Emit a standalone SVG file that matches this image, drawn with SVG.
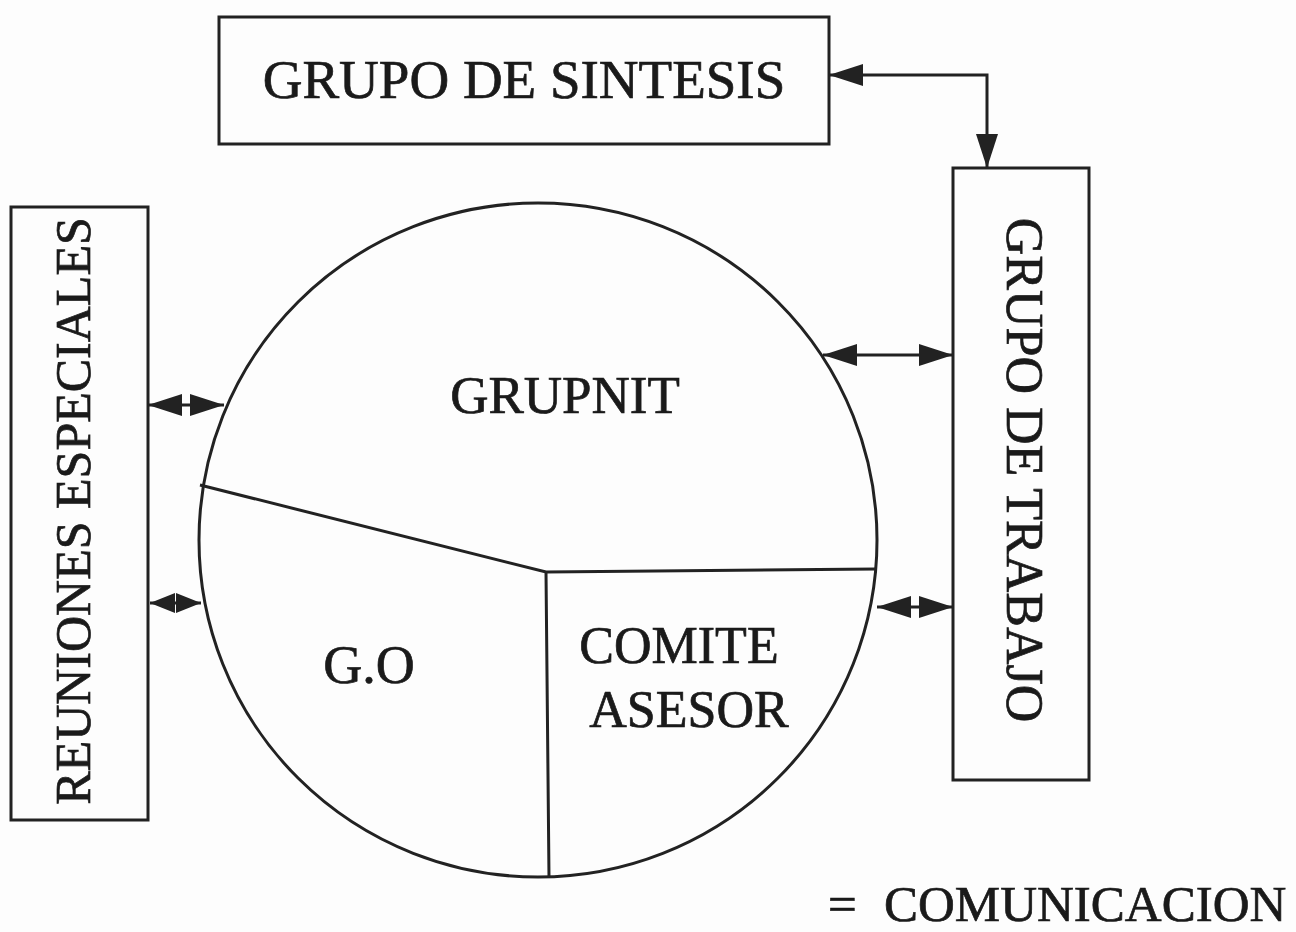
<svg xmlns="http://www.w3.org/2000/svg" width="1296" height="932" viewBox="0 0 1296 932">
<style>
.box{fill:none;stroke:#222;stroke-width:3}
.ln{fill:none;stroke:#222;stroke-width:3}
.t{font-family:"Liberation Serif","Times New Roman",serif;fill:#1a1a1a;stroke:#1a1a1a;stroke-width:0.7}
</style>
<defs>
<marker id="ah" viewBox="0 0 34 22" refX="34" refY="11" markerWidth="34" markerHeight="22" markerUnits="userSpaceOnUse" orient="auto-start-reverse"><path d="M0,0 L34,11 L0,22 z" fill="#222"/></marker>
<marker id="ahs" viewBox="0 0 25 20" refX="25" refY="10" markerWidth="25" markerHeight="20" markerUnits="userSpaceOnUse" orient="auto-start-reverse"><path d="M0,0 L25,10 L0,20 z" fill="#222"/></marker>
</defs>
<rect width="1296" height="932" fill="#fdfdfd"/>

<g id="grupo-sintesis">
<rect class="box" x="219" y="17" width="610" height="127"/>
<text class="t" x="524" y="98" font-size="55" text-anchor="middle">GRUPO DE SINTESIS</text>
</g>

<g id="grupo-trabajo">
<rect class="box" x="953" y="168" width="136" height="612"/>
<text class="t" font-size="52" text-anchor="middle" transform="translate(1007,470) rotate(90)">GRUPO DE TRABAJO</text>
</g>

<g id="reuniones-especiales">
<rect class="box" x="11" y="207" width="137" height="613"/>
<text class="t" font-size="50" text-anchor="middle" transform="translate(90,511) rotate(-90)">REUNIONES ESPECIALES</text>
</g>

<g id="circulo">
<ellipse class="ln" cx="538" cy="540" rx="339" ry="337"/>
<path class="ln" d="M200,485 L546,572 L876,569 M546,572 L549,877"/>
</g>

<g id="grupnit">
<text class="t" x="565" y="413" font-size="53" text-anchor="middle">GRUPNIT</text>
</g>

<g id="go">
<text class="t" x="369" y="683" font-size="54" text-anchor="middle">G.O</text>
</g>

<g id="comite-asesor">
<text class="t" font-size="52" text-anchor="middle"><tspan x="679" y="663">COMITE</tspan><tspan x="689" y="727">ASESOR</tspan></text>
</g>

<g id="conectores">
<path class="ln" d="M987,168 L987,75 L829,75" marker-start="url(#ah)" marker-end="url(#ah)"/>
<line class="ln" x1="148" y1="405" x2="224" y2="405" marker-start="url(#ah)" marker-end="url(#ah)"/>
<line class="ln" x1="150" y1="603" x2="201" y2="603" marker-start="url(#ahs)" marker-end="url(#ahs)"/>
<line class="ln" x1="823" y1="355" x2="953" y2="355" marker-start="url(#ah)" marker-end="url(#ah)"/>
<line class="ln" x1="877" y1="607" x2="953" y2="607" marker-start="url(#ah)" marker-end="url(#ah)"/>
</g>

<g id="leyenda">
<text class="t" font-size="51"><tspan x="828" y="921">=</tspan><tspan x="884" y="921">COMUNICACION</tspan></text>
</g>
</svg>
